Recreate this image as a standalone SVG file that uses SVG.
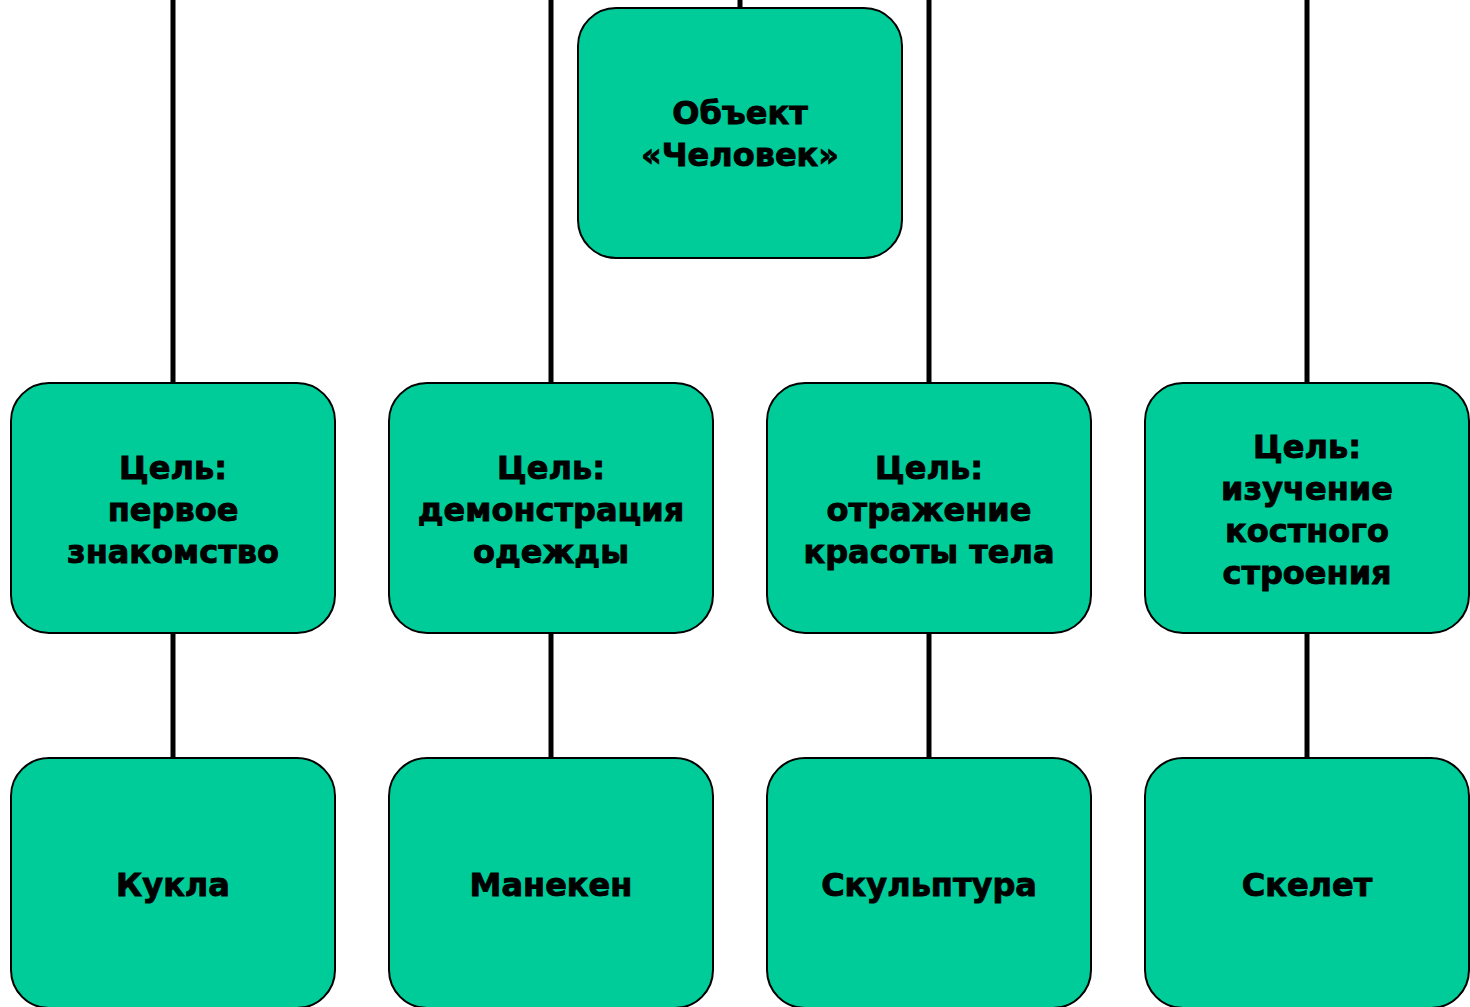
<svg xmlns="http://www.w3.org/2000/svg" width="1470" height="1007" viewBox="0 0 1470 1007">
<style>
.box{fill:#00CC99;stroke:#000;stroke-width:2}
.t{font-family:"DejaVu Sans",Verdana,sans-serif;font-weight:bold;font-size:32px;fill:#000;stroke:#000;stroke-width:0.9;text-anchor:middle}
.c{stroke:#000;stroke-width:5;fill:none}
</style>
<rect width="1470" height="1007" fill="#fff"/>
<g id="connectors">
<line class="c" x1="740" y1="0" x2="740" y2="8"/>
<line class="c" x1="173" y1="0" x2="173" y2="383"/>
<line class="c" x1="551" y1="0" x2="551" y2="383"/>
<line class="c" x1="929" y1="0" x2="929" y2="383"/>
<line class="c" x1="1307" y1="0" x2="1307" y2="383"/>
<line class="c" x1="173" y1="633" x2="173" y2="758"/>
<line class="c" x1="551" y1="633" x2="551" y2="758"/>
<line class="c" x1="929" y1="633" x2="929" y2="758"/>
<line class="c" x1="1307" y1="633" x2="1307" y2="758"/>
</g>
<g id="root">
<rect class="box" x="578" y="8" width="324" height="250" rx="38"/>
<text class="t" x="740" y="124">Объект</text>
<text class="t" x="740" y="166">«Человек»</text>
</g>
<g id="goal1">
<rect class="box" x="11" y="383" width="324" height="250" rx="38"/>
<text class="t" x="173" y="479">Цель:</text>
<text class="t" x="173" y="521">первое</text>
<text class="t" x="173" y="563">знакомство</text>
</g>
<g id="goal2">
<rect class="box" x="389" y="383" width="324" height="250" rx="38"/>
<text class="t" x="551" y="479">Цель:</text>
<text class="t" x="551" y="521">демонстрация</text>
<text class="t" x="551" y="563">одежды</text>
</g>
<g id="goal3">
<rect class="box" x="767" y="383" width="324" height="250" rx="38"/>
<text class="t" x="929" y="479">Цель:</text>
<text class="t" x="929" y="521">отражение</text>
<text class="t" x="929" y="563">красоты тела</text>
</g>
<g id="goal4">
<rect class="box" x="1145" y="383" width="324" height="250" rx="38"/>
<text class="t" x="1307" y="458">Цель:</text>
<text class="t" x="1307" y="500">изучение</text>
<text class="t" x="1307" y="542">костного</text>
<text class="t" x="1307" y="584">строения</text>
</g>
<g id="doll">
<rect class="box" x="11" y="758" width="324" height="250" rx="38"/>
<text class="t" x="173" y="896">Кукла</text>
</g>
<g id="mannequin">
<rect class="box" x="389" y="758" width="324" height="250" rx="38"/>
<text class="t" x="551" y="896">Манекен</text>
</g>
<g id="sculpture">
<rect class="box" x="767" y="758" width="324" height="250" rx="38"/>
<text class="t" x="929" y="896">Скульптура</text>
</g>
<g id="skeleton">
<rect class="box" x="1145" y="758" width="324" height="250" rx="38"/>
<text class="t" x="1307" y="896">Скелет</text>
</g>
</svg>
